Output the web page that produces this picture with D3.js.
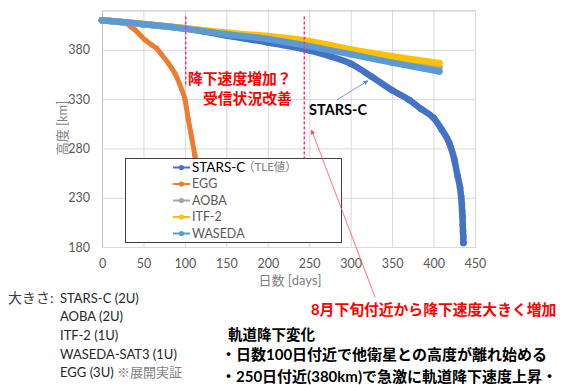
<!DOCTYPE html>
<html>
<head>
<meta charset="utf-8">
<script src="https://cdn.jsdelivr.net/npm/d3@7"></script>
<style>
  body { margin: 0; background: #fff; }
  svg { font-family: Lato, "Noto Sans CJK JP", sans-serif; }
</style>
</head>
<body>
<svg></svg>
<script>
// series (days, altitude km)
const starsDays = [0, 50, 100, 150, 200, 250, 275, 300, 325, 350, 371, 385, 400, 410, 419, 425, 429, 432, 433.3, 434, 434.5, 434.9, 435.2, 435.5, 435.8, 436]
const starsAlt  = [410, 406, 401.5, 394.5, 387.5, 379.5, 373.5, 366, 353, 339, 329, 320, 311, 299, 285.5, 269, 252, 240, 231, 224, 216, 211, 202.5, 196, 190.5, 184]

const eggDays = [0, 10, 20, 28, 35, 40, 46, 52, 60, 66, 72, 80, 88, 96, 100, 104, 108, 112, 115, 118]
const eggAlt  = [410, 409, 408, 407, 403.5, 400, 395, 390, 385, 381.5, 375, 366.5, 356, 340, 330, 310, 292, 273, 258, 240]

const aobaDays = [0, 100, 148, 200, 245, 300, 350, 407]
const aobaAlt  = [410, 401.8, 396.8, 392.5, 387, 378, 370, 362]

const itfDays = [0, 100, 148, 200, 245, 300, 350, 407]
const itfAlt  = [410, 402, 397.5, 394, 389.5, 380.5, 373.5, 366.5]

const wasedaDays = [0, 100, 148, 200, 245, 300, 350, 407]
const wasedaAlt  = [410, 401.5, 396, 391, 384.5, 375.5, 367, 358]

const xTicks = [0, 50, 100, 150, 200, 250, 300, 350, 400, 450]
const yTicks = [180, 230, 280, 330, 380]

const seriesNames = ['STARS-C', 'EGG', 'AOBA', 'ITF-2', 'WASEDA']
const seriesColors = ['#4472C4', '#ED7D31', '#A5A5A5', '#FFC000', '#5B9BD5']

const sizeLabels = ['STARS-C (2U)', 'AOBA (2U)', 'ITF-2 (1U)', 'WASEDA-SAT3 (1U)', 'EGG (3U)']

const width = 563, height = 385
const svg = d3.select('svg').attr('width', width).attr('height', height)

const x = d3.scaleLinear().domain([0, 450]).range([102, 475])
const y = d3.scaleLinear().domain([180, 420]).range([247, 10.4])

const zip = (a, b) => a.map((d, i) => ({ d: d, v: b[i] }))
const series = [
  zip(starsDays, starsAlt),
  zip(eggDays, eggAlt),
  zip(aobaDays, aobaAlt),
  zip(itfDays, itfAlt),
  zip(wasedaDays, wasedaAlt)
]

// arrow markers
const defs = svg.append('defs')
const arrow = (id, col) => defs.append('marker')
  .attr('id', id).attr('viewBox', '0 0 10 10')
  .attr('refX', 9).attr('refY', 5)
  .attr('markerWidth', 6).attr('markerHeight', 6)
  .attr('orient', 'auto')
  .append('path').attr('d', 'M0,0 L10,5 L0,10 z').attr('fill', col)
arrow('arB', '#5B86D0')
arrow('arR', '#FF5050')

// grid
const gx = svg.append('g')
  .attr('transform', 'translate(0,247)')
  .call(d3.axisBottom(x).tickValues(xTicks).tickSize(-(247 - 10.4)).tickPadding(12))
gx.select('.domain').attr('stroke', '#BFBFBF')
gx.selectAll('.tick line').attr('stroke', '#D9D9D9')
gx.selectAll('.tick text').attr('fill', '#595959').style('font-size', '12.5px').style('font-family', 'Lato')

const gy = svg.append('g')
  .attr('transform', 'translate(102,0)')
  .call(d3.axisLeft(y).tickValues(yTicks).tickSize(-(475 - 102)).tickPadding(12))
gy.select('.domain').attr('stroke', '#BFBFBF')
gy.selectAll('.tick line').attr('stroke', '#D9D9D9')
gy.selectAll('.tick text').attr('fill', '#595959').style('font-size', '12.5px').style('font-family', 'Lato')

// axis titles
svg.append('text').attr('x', 290).attr('y', 285).attr('text-anchor', 'middle')
  .attr('fill', '#7F7F7F').style('font-size', '13px').text('日数 [days]')
svg.append('text').attr('transform', 'translate(67,128) rotate(-90)').attr('text-anchor', 'middle')
  .attr('fill', '#7F7F7F').style('font-size', '13px').text('高度 [km]')

// series
const line = d3.line().x(p => x(p.d)).y(p => y(p.v)).curve(d3.curveMonotoneX)
series.forEach((s, i) => {
  const g = svg.append('g')
  g.append('path').datum(s)
    .attr('d', line)
    .attr('fill', 'none')
    .attr('stroke', seriesColors[i])
    .attr('stroke-width', i === 1 ? 5 : 6.5)
    .attr('stroke-linecap', 'round')
    .attr('stroke-linejoin', 'round')
  g.selectAll('circle').data(s).enter().append('circle')
    .attr('cx', p => x(p.d)).attr('cy', p => y(p.v))
    .attr('r', i === 1 ? 2.6 : 3.3)
    .attr('fill', seriesColors[i])
})

// dashed markers
svg.append('line').attr('x1', 185.7).attr('x2', 185.7).attr('y1', 16.5).attr('y2', 87)
  .attr('stroke', '#FF2A8A').attr('stroke-width', 1.5).attr('stroke-dasharray', '3,2')
svg.append('line').attr('x1', 304.3).attr('x2', 304.3).attr('y1', 16.5).attr('y2', 173)
  .attr('stroke', '#FF2A8A').attr('stroke-width', 1.5).attr('stroke-dasharray', '3,2')

// legend
const lg = svg.append('g')
lg.append('rect').attr('x', 125.5).attr('y', 158.5).attr('width', 216).attr('height', 84)
  .attr('fill', '#fff').attr('stroke', '#404040').attr('stroke-width', 1)
seriesNames.forEach((n, i) => {
  const ly = 167.5 + i * 16.5
  lg.append('line').attr('x1', 173).attr('x2', 190).attr('y1', ly).attr('y2', ly)
    .attr('stroke', seriesColors[i]).attr('stroke-width', 2)
  lg.append('circle').attr('cx', 181.5).attr('cy', ly).attr('r', 2.6).attr('fill', seriesColors[i])
  lg.append('text').attr('x', 192).attr('y', ly).attr('dy', '0.35em')
    .attr('fill', i === 0 ? '#000' : '#595959')
    .style('font-size', i === 0 ? '13.5px' : '12.5px')
    .text(n)
})
lg.append('text').attr('x', 243).attr('y', 167).attr('dy', '0.35em')
  .attr('fill', '#7F7F7F').style('font-size', '11.5px').text('（TLE値）')

// annotations
const bold = (xx, yy, t, col, fs) => svg.append('text').attr('x', xx).attr('y', yy).attr('dy', '0.35em')
  .attr('fill', col).style('font-size', fs).style('font-weight', 'bold').text(t)

bold(188, 79, '降下速度増加？', '#FF0000', '14.8px')
bold(203, 99, '受信状況改善', '#FF0000', '14.8px')

bold(309, 110, 'STARS-C', '#000', '14.5px')
svg.append('line').attr('x1', 336.7).attr('y1', 100).attr('x2', 368).attr('y2', 80.7)
  .attr('stroke', '#5B86D0').attr('stroke-width', 0.8).attr('marker-end', 'url(#arB)')

svg.append('line').attr('x1', 375).attr('y1', 297).attr('x2', 311.5).attr('y2', 130)
  .attr('stroke', '#FF5050').attr('stroke-width', 0.8).attr('marker-end', 'url(#arR)')
bold(311, 310, '8月下旬付近から降下速度大きく増加', '#FF0000', '14.8px')

// size notes
svg.append('text').attr('x', 8).attr('y', 298).attr('dy', '0.35em')
  .attr('fill', '#404040').style('font-size', '14px').text('大きさ:')
sizeLabels.forEach((t, i) => {
  const tt = svg.append('text').attr('x', 60).attr('y', 298 + i * 18.7).attr('dy', '0.35em')
    .attr('fill', '#262626').style('font-size', '13px').text(t)
  if (i === 4) tt.append('tspan').attr('fill', '#7F7F7F').text(' ※展開実証')
})

// orbit decay notes
const notes = ['軌道降下変化', '・日数100日付近で他衛星との高度が離れ始める', '・250日付近(380km)で急激に軌道降下速度上昇・']
notes.forEach((t, i) => {
  bold(i === 0 ? 228 : 221, [335, 355, 377][i], t, '#000', i === 0 ? '14.5px' : '15px')
})
</script>
</body>
</html>
